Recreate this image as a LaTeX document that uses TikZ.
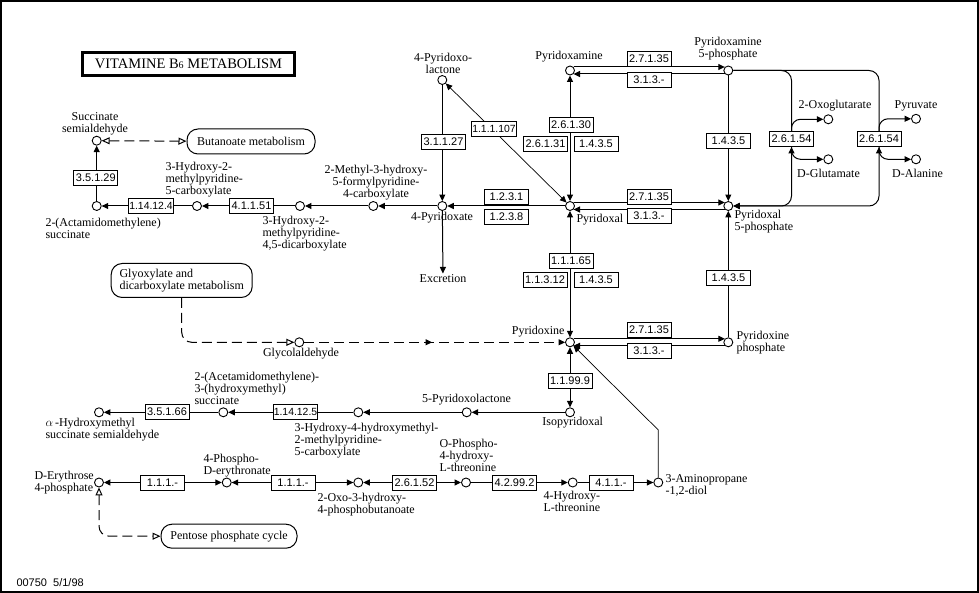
\documentclass[tikz,border=0pt]{standalone}
\usepackage{fontspec}
\setmainfont{Liberation Serif}
\setsansfont{Liberation Sans}
\usepackage{tikz}
\usetikzlibrary{arrows.meta,decorations.markings}

\tikzset{opn/.tip={Triangle[open,length=8pt,width=7pt]}}

\begin{document}
\begin{tikzpicture}[x=1pt,y=-1pt,line width=1pt,>={Triangle[length=6.5pt,width=6pt]},
    font=\fontsize{12}{12}\selectfont]
        \tikzstyle{cpd}=[circle, draw, fill=white, inner sep=0pt, minimum size=9pt, line width=0.9pt]
        \tikzstyle{enz}=[draw, fill=white, inner sep=1pt, minimum width=44pt, minimum height=15pt,
            line width=0.9pt, font=\sffamily\fontsize{11}{11}\selectfont]
        \tikzstyle{enzl}=[enz, inner sep=0.5pt, font=\sffamily\fontsize{10.4}{10.4}\selectfont]
        \tikzstyle{pw}=[draw, rounded corners=11pt, fill=white, align=left]
        \tikzstyle{lbl}=[inner sep=1pt, align=center]
        \tikzstyle{dsh}=[dash pattern=on 10pt off 5pt]

        \useasboundingbox (0,0) rectangle (979,593);
        \draw[line width=1.8pt] (0.9,0.9) rectangle (978.1,591.6);

        \node[draw, line width=3pt, minimum width=212pt, minimum height=23pt,
            font=\fontsize{14.5}{15}\selectfont] (title) at (188.5,63.7)
            {VITAMINE B{\fontsize{10}{10}\selectfont 6} METABOLISM};

        % compounds
        \node[cpd] (ssa)   at (96.7,140.7) {};
        \node[cpd] (acs)   at (96.7,206) {};
        \node[cpd] (hmpc)  at (197,206) {};
        \node[cpd] (hmpdc) at (300,206) {};
        \node[cpd] (mhfpc) at (373.3,206) {};
        \node[cpd] (pyxt)  at (442.3,206) {};
        \node[cpd] (pyl)   at (442.3,80) {};
        \node[cpd] (pl)    at (570,206) {};
        \node[cpd] (pm)    at (570,70.5) {};
        \node[cpd] (pmp)   at (728.3,70.5) {};
        \node[cpd] (plp)   at (728.3,206) {};
        \node[cpd] (og)    at (828.3,119.3) {};
        \node[cpd] (glu)   at (828.3,159.3) {};
        \node[cpd] (pyr)   at (916,118.8) {};
        \node[cpd] (ala)   at (916,159.3) {};
        \node[cpd] (pn)    at (570,342.3) {};
        \node[cpd] (pnp)   at (728.3,342.3) {};
        \node[cpd] (gla)   at (299.3,342.3) {};
        \node[cpd] (ipl)   at (570,412.3) {};
        \node[cpd] (pxl5)  at (466.7,412.3) {};
        \node[cpd] (hhmpc) at (358.3,412.3) {};
        \node[cpd] (acms)  at (223.3,412.3) {};
        \node[cpd] (ahs)   at (99,412.3) {};
        \node[cpd] (ery)   at (99,482.5) {};
        \node[cpd] (pde)   at (226.7,482.5) {};
        \node[cpd] (ohpb)  at (358.3,482.5) {};
        \node[cpd] (opht)  at (466,482.5) {};
        \node[cpd] (hlt)   at (572.7,482.5) {};
        \node[cpd] (apd)   at (658.3,482.5) {};
        \coordinate (bend) at (658.3,430);

        % names
        \node[lbl] (ssa-l) at (95,124) {Succinate\\semialdehyde};
        \node[lbl, align=left, anchor=west] (acs-l) at (44,228.3) {2-(Actamidomethylene)\\succinate};
        \node[lbl, align=left, anchor=west] (hmpc-l) at (164,180) {3-Hydroxy-2-\\methylpyridine-\\5-carboxylate};
        \node[lbl, align=left, anchor=west] (hmpdc-l) at (261,234) {3-Hydroxy-2-\\methylpyridine-\\4,5-dicarboxylate};
        \node[lbl] (mhfpc-l) at (376,183) {2-Methyl-3-hydroxy-\\5-formylpyridine-\\4-carboxylate};
        \node[lbl] (pyl-l) at (443,63) {4-Pyridoxo-\\lactone};
        \node[lbl] (pyxt-l) at (442,218) {4-Pyridoxate};
        \node[lbl] (excr) at (443,279) {Excretion};
        \node[lbl] (pm-l) at (569,57) {Pyridoxamine};
        \node[lbl, anchor=west] (pl-l) at (575,220) {Pyridoxal};
        \node[lbl] (pmp-l) at (728,48.3) {Pyridoxamine\\5-phosphate};
        \node[lbl, align=left, anchor=west] (plp-l) at (733,222) {Pyridoxal\\5-phosphate};
        \node[lbl] (og-l) at (835,106) {2-Oxoglutarate};
        \node[lbl] (glu-l) at (828.5,173) {D-Glutamate};
        \node[lbl] (pyr-l) at (916,106) {Pyruvate};
        \node[lbl] (ala-l) at (917.5,173) {D-Alanine};
        \node[lbl, anchor=east] (pn-l) at (566,332) {Pyridoxine};
        \node[lbl, align=left, anchor=west] (pnp-l) at (735,343) {Pyridoxine\\phosphate};
        \node[lbl] (gla-l) at (301,354) {Glycolaldehyde};
        \node[lbl] (ipl-l) at (572.7,423) {Isopyridoxal};
        \node[lbl] (pxl5-l) at (466.5,400) {5-Pyridoxolactone};
        \node[lbl, align=left, anchor=west] (hhmpc-l) at (293,440.7) {3-Hydroxy-4-hydroxymethyl-\\2-methylpyridine-\\5-carboxylate};
        \node[lbl, align=left, anchor=west] (acms-l) at (193,388.3) {2-(Acetamidomethylene)-\\3-(hydroxymethyl)\\succinate};
        \node[lbl, align=left, anchor=west] (ahs-l) at (44,430) {$\alpha$\,-Hydroxymethyl\\succinate semialdehyde};
        \node[lbl, align=left, anchor=west] (ery-l) at (33,483) {D-Erythrose\\4-phosphate};
        \node[lbl, align=left, anchor=west] (pde-l) at (202,465.3) {4-Phospho-\\D-erythronate};
        \node[lbl, align=left, anchor=west] (ohpb-l) at (316,504.5) {2-Oxo-3-hydroxy-\\4-phosphobutanoate};
        \node[lbl, align=left, anchor=west] (opht-l) at (438,455.3) {O-Phospho-\\4-hydroxy-\\L-threonine};
        \node[lbl, align=left, anchor=west] (hlt-l) at (542,501.7) {4-Hydroxy-\\L-threonine};
        \node[lbl, align=left, anchor=west] (apd-l) at (664,485) {3-Aminopropane\\-1,2-diol};

        % other maps
        \node[pw, minimum width=128pt, minimum height=25pt] (btn) at (251,141.5) {Butanoate metabolism};
        \node[pw, minimum width=141pt, minimum height=34pt] (glx) at (181.7,280.5) {Glyoxylate and\\dicarboxylate metabolism};
        \node[pw, minimum width=136pt, minimum height=24pt] (ppc) at (229,536.2) {Pentose phosphate cycle};

        % transaminase loops
        \node[enz] (e54a) at (791.5,139) {2.6.1.54};
        \node[enz] (e54b) at (879,139) {2.6.1.54};
        \draw[<->, rounded corners=10pt] (pmp) -| (e54b) |- (plp);
        \draw[<->, rounded corners=10pt] (pmp) -| (e54a) |- (plp);
        \draw[->, rounded corners=9pt] (e54a.north) |- (og);
        \draw[->, rounded corners=9pt] (e54a.south) |- (glu);
        \draw[->, rounded corners=9pt] (e54b.north) |- (pyr);
        \draw[->, rounded corners=9pt] (e54b.south) |- (ala);

        % reactions
        \draw[->] (acs) -- (ssa);
        \draw[->] (hmpc) -- (acs);
        \draw[->] (hmpdc) -- (hmpc);
        \draw[->] (mhfpc) -- (hmpdc);
        \draw[->] (pyxt) -- (mhfpc);
        \draw[->] (pl) -- (pyxt);
        \draw[->] (pyl) -- (pyxt);
        \draw[->] (pyxt) -- (excr);
        \draw[<->, line width=0.7pt] (pl) -- (pyl);
        \draw[<->] (pl) -- (pm);
        \draw[->] (pm.45) -- (pmp.135);
        \draw[->] (pmp.-135) -- (pm.-45);
        \draw[->] (pl.45) -- (plp.135);
        \draw[->] (plp.-135) -- (pl.-45);
        \draw[->] (pmp) -- (plp);
        \draw[<->] (pl) -- (pn);
        \draw[->] (pn.45) -- (pnp.135);
        \draw[->] (pnp.-135) -- (pn.-45);
        \draw[->] (pnp) -- (plp);
        \draw[<->] (pn) -- (ipl);
        \draw[->] (ipl) -- (pxl5);
        \draw[->] (pxl5) -- (hhmpc);
        \draw[->] (hhmpc) -- (acms);
        \draw[->] (acms) -- (ahs);
        \draw[->, line width=0.7pt] (apd) -- (bend) -- (pn);
        \draw[<->] (pde) -- (ery);
        \draw[<->] (ohpb) -- (pde);
        \draw[<->] (opht) -- (ohpb);
        \draw[->] (opht) -- (hlt);
        \draw[->] (hlt) -- (apd);

        \draw[dsh, opn-opn] (ssa) -- (btn);
        \draw[dsh, -opn, rounded corners=10pt] (glx) |- (gla);
        \draw[dsh, ->, decoration={markings, mark=at position 0.49 with {\arrow{>}}},
            postaction={decorate}] (gla) -- (pn);
        \draw[dsh, opn-opn, rounded corners=10pt] (ery) |- (ppc);

        % enzymes
        \node[enz]  (e35129)  at (95.8,178) {3.5.1.29};
        \node[enzl] (e114124) at (151,206) {1.14.12.4};
        \node[enz]  (e41151)  at (251.5,206) {4.1.1.51};
        \node[enz]  (e31127)  at (443.5,142) {3.1.1.27};
        \node[enzl] (e111107) at (494,129) {1.1.1.107};
        \node[enz]  (e1231)   at (506.5,196.5) {1.2.3.1};
        \node[enz]  (e1238)   at (506.5,216.5) {1.2.3.8};
        \node[enz]  (e26130)  at (571,124.7) {2.6.1.30};
        \node[enz]  (e26131)  at (545.5,144) {2.6.1.31};
        \node[enz]  (e1435a)  at (596,144) {1.4.3.5};
        \node[enz]  (e27135a) at (649,59) {2.7.1.35};
        \node[enz]  (e313a)   at (649,80) {3.1.3.-};
        \node[enz]  (e1435b)  at (728.5,140.5) {1.4.3.5};
        \node[enz]  (e27135b) at (649,197) {2.7.1.35};
        \node[enz]  (e313b)   at (649,215.5) {3.1.3.-};
        \node[enz]  (e11165)  at (571,261) {1.1.1.65};
        \node[enz]  (e11312)  at (545,279.7) {1.1.3.12};
        \node[enz]  (e1435c)  at (596,279.7) {1.4.3.5};
        \node[enz]  (e27135c) at (649,330) {2.7.1.35};
        \node[enz]  (e313c)   at (649,351) {3.1.3.-};
        \node[enz]  (e1435d)  at (728.5,277.5) {1.4.3.5};
        \node[enz]  (e11999)  at (570,380.5) {1.1.99.9};
        \node[enzl] (e114125) at (295.5,412) {1.14.12.5};
        \node[enz]  (e35166)  at (167,412) {3.5.1.66};
        \node[enz]  (e111a)   at (162.5,482.5) {1.1.1.-};
        \node[enz]  (e111b)   at (293,482.5) {1.1.1.-};
        \node[enz]  (e26152)  at (414.5,482.5) {2.6.1.52};
        \node[enz]  (e42992)  at (514.5,482.5) {4.2.99.2};
        \node[enz]  (e411)    at (611,482.5) {4.1.1.-};

        \node[anchor=west, inner sep=0pt, font=\sffamily\fontsize{11}{11}\selectfont] (date) at (16,582.7) {00750\ \ 5/1/98};
\end{tikzpicture}
\end{document}
